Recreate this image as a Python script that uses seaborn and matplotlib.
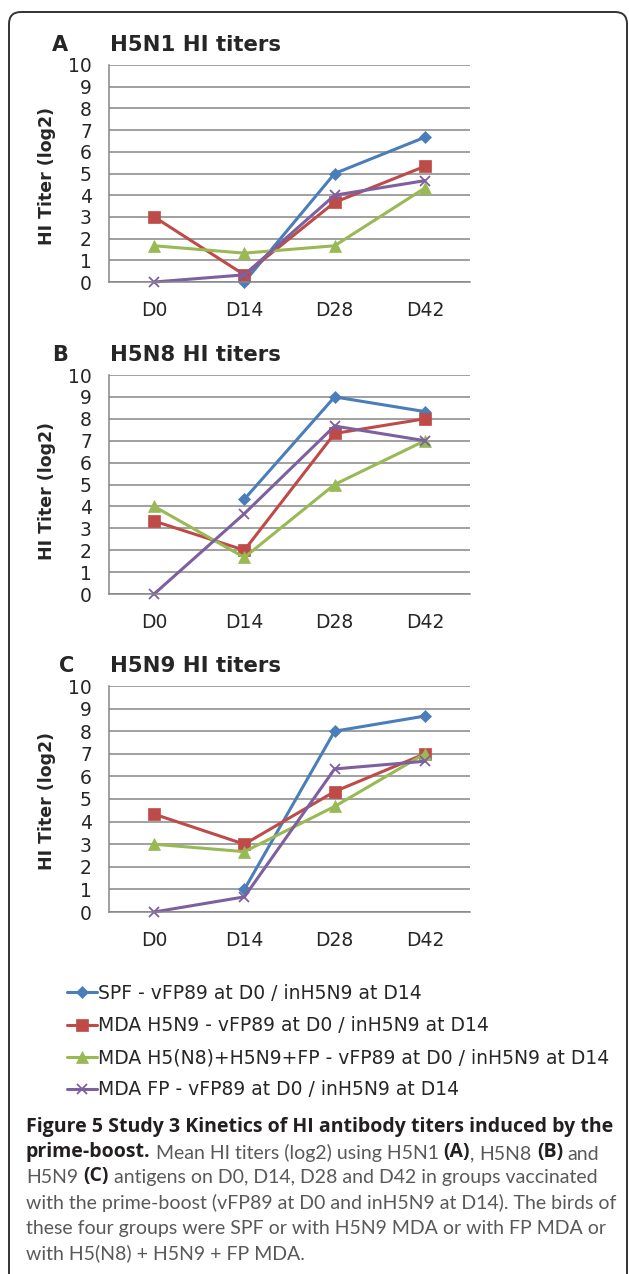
import numpy as np
import pandas as pd
import matplotlib
matplotlib.use("Agg")
import matplotlib.pyplot as plt
import seaborn as sns
from matplotlib.lines import Line2D
from matplotlib.patches import FancyBboxPatch
from matplotlib.transforms import IdentityTransform

sns.set_style("white")
plt.rcParams["font.family"] = ["DejaVu Sans"]

# ---- data ----
days = ["D0", "D14", "D28", "D42"]
groups = [
    "SPF - vFP89 at D0 / inH5N9 at D14",
    "MDA H5N9 - vFP89 at D0 / inH5N9 at D14",
    "MDA H5(N8)+H5N9+FP - vFP89 at D0 / inH5N9 at D14",
    "MDA FP - vFP89 at D0 / inH5N9 at D14",
]
nan = np.nan
# one row per group, one column per day
h5n1 = [[nan, 0.0, 5.0, 6.67],
        [3.0, 0.33, 3.67, 5.33],
        [1.67, 1.33, 1.67, 4.33],
        [0.0, 0.33, 4.0, 4.67]]
h5n8 = [[nan, 4.33, 9.0, 8.33],
        [3.33, 2.0, 7.33, 8.0],
        [4.0, 1.67, 5.0, 7.0],
        [0.0, 3.67, 7.67, 7.0]]
h5n9 = [[nan, 1.0, 8.0, 8.67],
        [4.33, 3.0, 5.33, 7.0],
        [3.0, 2.67, 4.67, 7.0],
        [0.0, 0.67, 6.33, 6.67]]
panel_letters = ["A", "B", "C"]
panel_titles = ["H5N1 HI titers", "H5N8 HI titers", "H5N9 HI titers"]
panel_values = [h5n1, h5n8, h5n9]

colors = ["#4A7EBB", "#BE4B48", "#98B954", "#7D60A0"]
markers = ["D", "s", "^", "x"]
msizes = [6.5, 8, 9, 7.5]

rows = []
for p, vals in zip(panel_titles, panel_values):
    for g, series in zip(groups, vals):
        for i, (d, v) in enumerate(zip(days, series)):
            rows.append({"panel": p, "group": g, "day": d, "pos": i, "titer": v})
df = pd.DataFrame(rows)

W, H = 629, 1274
fig = plt.figure(figsize=(W / 100, H / 100), dpi=100)

# panel geometry in pixels: (top, bottom)
boxes = [(65, 282), (375, 594), (686, 912)]
letter_x = [52, 52, 59]
left, right = 109, 470
grid_col = "#868686"

for k, (top, bot) in enumerate(boxes):
    ax = fig.add_axes([left / W, 1 - bot / H, (right - left) / W, (bot - top) / H])
    sub = df[df.panel == panel_titles[k]]
    for g, c, m, ms in zip(groups, colors, markers, msizes):
        sns.lineplot(data=sub[sub.group == g].dropna(), x="pos", y="titer", ax=ax,
                     color=c, marker=m, markersize=ms, markeredgecolor=c,
                     markeredgewidth=1.3 if m == "x" else 0.5, linewidth=2.2,
                     errorbar=None, clip_on=False)
    ax.set_xlim(-0.5, 3.5)
    ax.set_ylim(0, 10)
    ax.set_yticks(range(0, 11))
    ax.yaxis.grid(True, color=grid_col, lw=1.1)
    ax.set_axisbelow(True)
    for s in ["top", "right"]:
        ax.spines[s].set_visible(False)
    for s in ["left", "bottom"]:
        ax.spines[s].set_color(grid_col)
        ax.spines[s].set_linewidth(1.1)
    ax.set_xticks([-0.5, 0.5, 1.5, 2.5, 3.5])
    ax.set_xticklabels([])
    ax.set_xticks(range(4), minor=True)
    ax.set_xticklabels(days, minor=True)
    ax.tick_params(axis="x", which="major", direction="out", length=4.3,
                   width=1.1, color=grid_col)
    ax.tick_params(axis="x", which="minor", length=0, pad=13.5, labelsize=13.5)
    ax.tick_params(axis="y", direction="out", length=4.3, width=1.1,
                   color=grid_col, pad=8, labelsize=13.5)
    ax.set_xlabel("")
    ax.set_ylabel("HI Titer (log2)", fontsize=12.5, fontweight="bold")
    ax.yaxis.set_label_coords((56 - left) / (right - left), 0.47 if k == 1 else 0.49)
    fig.text(letter_x[k] / W, 1 - (top - 14) / H, panel_letters[k],
             fontsize=15, fontweight="bold", va="baseline")
    fig.text(110 / W, 1 - (top - 14) / H, panel_titles[k],
             fontsize=15.3, fontweight="bold", va="baseline")

# legend
handles = [Line2D([], [], color=c, marker=m, markersize=ms, markeredgecolor=c,
                  markeredgewidth=1.3 if m == "x" else 0.5, lw=2.2)
           for c, m, ms in zip(colors, markers, msizes)]
fig.legend(handles, groups, loc="upper left", bbox_to_anchor=(67 / W, 1 - 984 / H),
           frameon=False, fontsize=13.5, handlelength=1.6, handletextpad=0.05,
           labelspacing=0.7, borderpad=0, borderaxespad=0)

# caption
bg = fig.add_axes([0, 0, 1, 1])
bg.axis("off")
bg.set_zorder(-1)
cap_size = 14
bold_col = "#231f20"
reg_col = "#58595b"
space_px = 5
caption = [
    [("Figure 5 Study 3 Kinetics of HI antibody titers induced by the", True, False)],
    [("prime-boost.", True, False), ("Mean HI titers (log2) using H5N1", False, True),
     ("(A)", True, True), (",", False, False), ("H5N8", False, True),
     ("(B)", True, True), ("and", False, True)],
    [("H5N9", False, False), ("(C)", True, True),
     ("antigens on D0, D14, D28 and D42 in groups vaccinated", False, True)],
    [("with the prime-boost (vFP89 at D0 and inH5N9 at D14). The birds of", False, False)],
    [("these four groups were SPF or with H5N9 MDA or with FP MDA or", False, False)],
    [("with H5(N8) + H5N9 + FP MDA.", False, False)],
]
baselines = [1132, 1157.5, 1183, 1208.5, 1234, 1259.5]
for segs, yb in zip(caption, baselines):
    prev = None
    for txt, bold, gap in segs:
        kw = dict(fontsize=cap_size,
                  family="Open Sans" if bold else "Lato",
                  fontweight="bold" if bold else "normal",
                  color=bold_col if bold else reg_col)
        if prev is None:
            prev = bg.text(26 / W, 1 - yb / H, txt, transform=bg.transAxes,
                           va="baseline", ha="left", **kw)
        else:
            prev = bg.annotate(txt, xy=(1, 0), xycoords=prev,
                               xytext=(space_px if gap else 0, 0),
                               textcoords="offset pixels",
                               va="bottom", ha="left", **kw)

# rounded frame
frame = FancyBboxPatch((9, -40), 618, H - 12 + 40,
                       boxstyle="round,pad=0,rounding_size=12",
                       transform=IdentityTransform(), fill=False,
                       edgecolor="#333333", linewidth=1.4)
fig.add_artist(frame)

fig.savefig("out.png", dpi=100)
